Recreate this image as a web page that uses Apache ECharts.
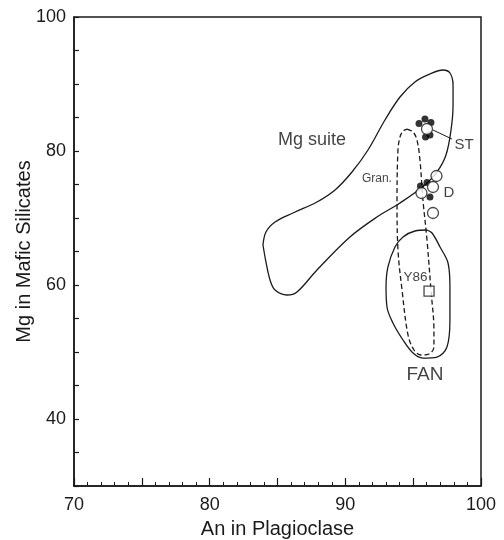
<!DOCTYPE html>
<html style="height: 100%">
  <head>
    <meta charset="utf-8" />
  </head>
  <body style="height: 100%; margin: 0; background: #fff">
    <div id="container" style="width: 504px; height: 540px"></div>

    <script type="text/javascript" src="https://fastly.jsdelivr.net/npm/echarts@6/dist/echarts.min.js"></script>

    <script type="text/javascript">
      // field outlines, [An, Mg]
      var mgSuite = [
        [83.93, 65.97], [84.15, 67.91], [84.82, 69.4], [86.14, 70.75], [87.91, 72.39],
        [89.24, 74.18], [90.49, 76.87], [91.67, 80.15], [92.92, 84.63], [94.03, 88.06],
        [95.13, 90.3], [96.24, 91.49], [97.2, 92.09], [97.71, 91.64], [97.94, 89.85],
        [97.94, 86.87], [97.79, 83.13], [97.42, 79.4], [96.76, 76.87], [95.87, 74.93],
        [94.03, 72.24], [92.33, 70.15], [90.34, 67.16], [87.91, 62.24], [86.44, 58.96],
        [85.7, 58.51], [84.82, 59.25], [84.45, 60.75], [84.15, 63.43], [83.93, 65.97]
      ];
      var granulites = [
        [94.55, 83.28], [94.99, 82.84], [95.28, 81.64], [95.5, 78.66], [95.72, 72.69],
        [96.02, 66.72], [96.31, 59.25], [96.53, 53.28], [96.53, 50.75], [96.17, 49.7],
        [95.58, 49.55], [95.06, 50.3], [94.62, 52.54], [94.18, 59.25], [93.88, 65.22],
        [93.81, 72.69], [93.88, 80.15], [94.03, 82.09], [94.25, 82.99], [94.55, 83.28]
      ];
      var fan = [
        [96.02, 68.21], [95.13, 68.06], [94.25, 67.16], [93.66, 65.67], [93.14, 62.69],
        [93.0, 59.7], [93.07, 56.72], [93.51, 54.33], [94.25, 51.79], [94.99, 49.85],
        [95.72, 49.1], [96.76, 49.25], [97.49, 50.75], [97.71, 54.78], [97.71, 59.7],
        [97.57, 63.28], [96.98, 65.67], [96.39, 67.76], [96.02, 68.21]
      ];

      // samples
      var stFilled = [[95.87, 84.78], [95.43, 84.1], [96.31, 84.25], [96.24, 82.39], [95.91, 82.09]];
      var stOpen = [[96.02, 83.28]];
      var dFilled = [[95.54, 74.78], [96.02, 75.3], [96.24, 73.13]];
      var dOpen = [[96.72, 76.27], [96.46, 74.63], [95.61, 73.73], [96.46, 70.75]];
      var y86 = [[96.17, 59.1]];
      var stLeader = [[96.46, 83.13], [97.86, 81.79]];

      // text labels: [An, Mg, text, size]
      var labels = [
        [87.54, 81.6, "Mg suite", 18],
        [98.75, 80.9, "ST", 15],
        [92.33, 75.82, "Gran.", 12],
        [97.64, 73.73, "D", 15],
        [95.17, 61.19, "Y86", 13.5],
        [95.87, 46.57, "FAN", 19]
      ];

      var ink = "#1a1a1a";
      var font = "Liberation Sans";

      var dom = document.getElementById("container");
      var myChart = echarts.init(dom, null, { renderer: "canvas" });

      var outline = function (data, dashed) {
        return {
          type: "line",
          data: data,
          smooth: 0.35,
          symbol: "none",
          silent: true,
          lineStyle: { color: ink, width: 1.3, type: dashed ? [5, 3] : "solid" },
          z: 2
        };
      };

      var option = {
        backgroundColor: "#fff",
        animation: false,
        grid: {
          left: 74, right: 23, top: 17, bottom: 54,
          outerBoundsMode: "none", containLabel: false,
          show: true, borderColor: ink, borderWidth: 1.5, backgroundColor: "transparent"
        },
        xAxis: {
          type: "value", min: 70, max: 100, interval: 5,
          name: "An in Plagioclase", nameLocation: "middle", nameGap: 33,
          nameTextStyle: { fontFamily: font, fontSize: 20, color: ink },
          axisLine: { lineStyle: { color: ink, width: 1.5 } },
          axisTick: { inside: true, length: 8, lineStyle: { color: ink, width: 1.2 } },
          minorTick: { show: true, splitNumber: 5, length: 4, lineStyle: { color: ink, width: 1 } },
          splitLine: { show: false },
          axisLabel: {
            fontFamily: font, fontSize: 18, color: ink, margin: 10,
            formatter: function (v) { return v % 10 === 0 ? v : ""; }
          }
        },
        yAxis: {
          type: "value", min: 30, max: 100, interval: 5,
          name: "Mg in Mafic Silicates", nameLocation: "middle", nameGap: 40,
          nameMoveOverlap: false,
          nameTextStyle: { fontFamily: font, fontSize: 20, color: ink },
          axisLine: { lineStyle: { color: ink, width: 1.5 } },
          axisTick: { inside: true, length: 5, lineStyle: { color: ink, width: 1.2 } },
          splitLine: { show: false },
          axisLabel: {
            fontFamily: font, fontSize: 18, color: ink, margin: 8,
            formatter: function (v) { return v % 20 === 0 ? v : ""; }
          }
        },
        series: [
          outline(mgSuite, false),
          outline(granulites, true),
          outline(fan, false),
          {
            type: "line", data: stLeader, symbol: "none", silent: true,
            lineStyle: { color: ink, width: 1 }, z: 3
          },
          {
            type: "scatter", data: stFilled.concat(dFilled), symbol: "circle", symbolSize: 7,
            itemStyle: { color: "#000" }, z: 4
          },
          {
            type: "scatter", data: stOpen.concat(dOpen), symbol: "circle", symbolSize: 11,
            itemStyle: { color: "#fff", borderColor: ink, borderWidth: 1.3 }, z: 5
          },
          {
            type: "scatter", data: y86, symbol: "rect", symbolSize: 10,
            itemStyle: { color: "#fff", borderColor: ink, borderWidth: 1.3 }, z: 5
          },
          {
            type: "scatter", symbolSize: 0, silent: true, z: 6,
            data: labels.map(function (l) {
              return {
                value: [l[0], l[1]],
                label: {
                  show: true, position: "inside", formatter: l[2],
                  fontFamily: font, fontSize: l[3], color: "#111"
                }
              };
            })
          }
        ]
      };

      myChart.setOption(option);
      window.addEventListener("resize", myChart.resize);
    </script>
  </body>
</html>
